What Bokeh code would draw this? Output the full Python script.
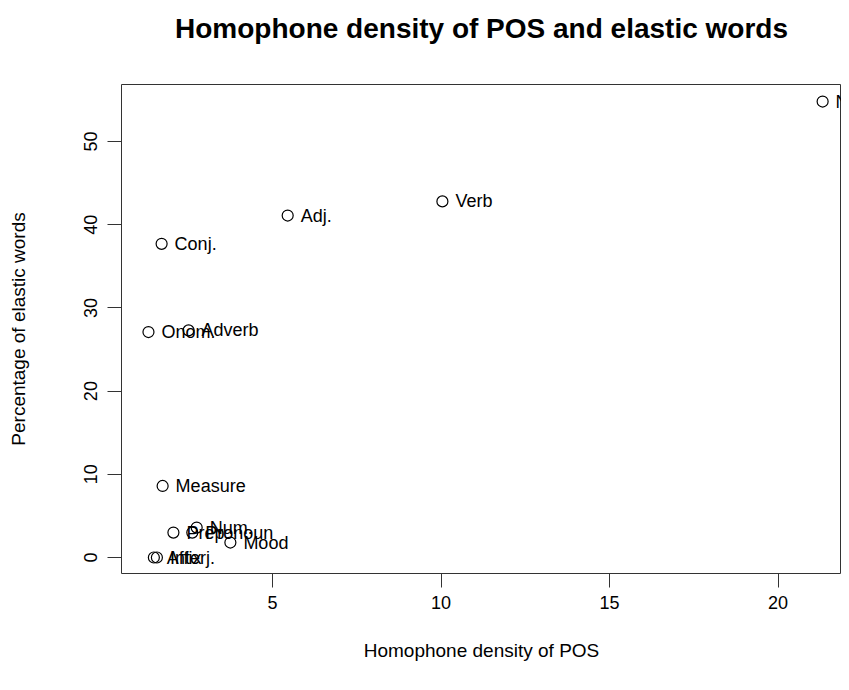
from bokeh.plotting import figure
from bokeh.models import Range1d, FixedTicker, ColumnDataSource, Title
from bokeh.core.properties import value
from bokeh.embed import file_html
from bokeh.resources import INLINE

# Data
pos_names = ["Noun", "Verb", "Adj.", "Conj.", "Onom.", "Adverb", "Measure",
             "Prep.", "Pronoun", "Num.", "Mood", "Affix", "Interj."]
homophone_density = [21.32, 10.04, 5.45, 1.71, 1.32, 2.51, 1.74,
                     2.06, 2.62, 2.75, 3.75, 1.48, 1.57]
elastic_pct = [54.8, 42.8, 41.1, 37.7, 27.1, 27.3, 8.6,
               3.0, 3.0, 3.6, 1.8, 0.0, 0.0]
x_ticks = [5, 10, 15, 20]
y_ticks = [0, 10, 20, 30, 40, 50]
title_text = "Homophone density of POS and elastic words"

FONT = "Liberation Sans"

src = ColumnDataSource(dict(x=homophone_density, y=elastic_pct, name=pos_names))

p = figure(width=841, height=674, output_backend="svg", toolbar_location=None,
           x_range=Range1d(0.52, 21.88), y_range=Range1d(-1.92, 56.85),
           min_border_left=121, min_border_right=0, min_border_top=84,
           min_border_bottom=101, title=title_text)

p.title.text_font = FONT
p.title.text_font_style = "bold"
p.title.text_font_size = "28px"
p.title.align = "center"
p.title.text_color = "black"
p.title.standoff = 10

# invisible spacer between the title and the frame
spacer = Title(text=" ", text_font_size="1px", standoff=33, text_color="white")
p.add_layout(spacer, "above")

p.background_fill_color = "white"
p.border_fill_color = "white"
p.outline_line_color = "#333333"
p.outline_line_width = 1
p.xgrid.visible = False
p.ygrid.visible = False

for ax in (p.xaxis, p.yaxis):
    ax.axis_line_color = None
    ax.major_tick_line_color = "#333333"
    ax.major_tick_out = 14
    ax.major_tick_in = 0
    ax.minor_tick_line_color = None
    ax.major_label_text_font = FONT
    ax.major_label_text_font_size = "18px"
    ax.major_label_text_color = "black"
    ax.axis_label_text_font = FONT
    ax.axis_label_text_font_size = "19px"
    ax.axis_label_text_font_style = "normal"
    ax.axis_label_text_color = "black"

p.xaxis.ticker = FixedTicker(ticks=x_ticks)
p.yaxis.ticker = FixedTicker(ticks=y_ticks)
p.xaxis.axis_label = "Homophone density of POS"
p.yaxis.axis_label = "Percentage of elastic words"
p.yaxis.major_label_orientation = "vertical"
p.xaxis.major_label_standoff = 8
p.yaxis.major_label_standoff = 10
p.xaxis.axis_label_standoff = 28
p.yaxis.axis_label_standoff = 53

p.scatter("x", "y", source=src, marker="circle", size=11,
          fill_color=None, line_color="black", line_width=1.2)
p.text("x", "y", text="name", source=src, x_offset=13,
       text_baseline="middle", text_align="left",
       text_font=value(FONT), text_font_size="18px", text_color="black")

open("out.html", "w").write(file_html(p, INLINE))
